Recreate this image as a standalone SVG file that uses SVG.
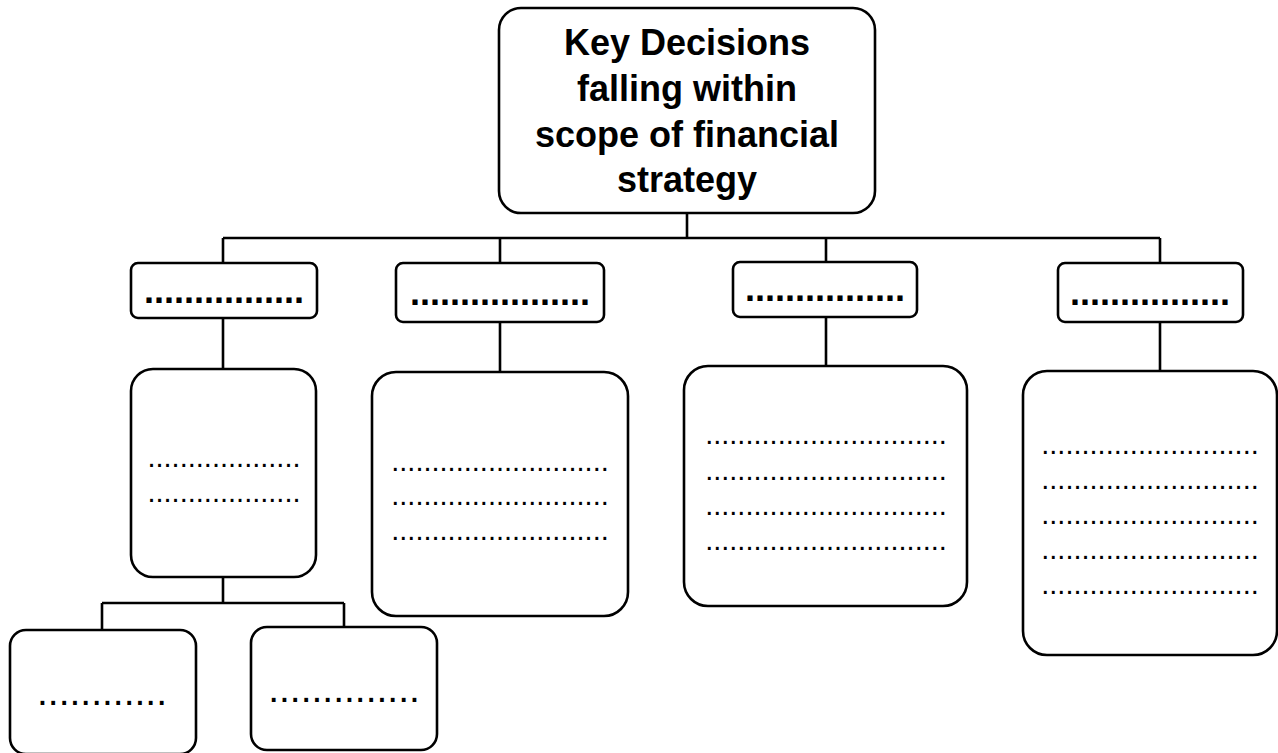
<svg xmlns="http://www.w3.org/2000/svg" width="1278" height="753" viewBox="0 0 1278 753">
<style>
.box{fill:#fff;stroke:#000;stroke-width:2.6}
.ln{fill:none;stroke:#000;stroke-width:2.6}
.t{font-family:"Liberation Sans",Arial,sans-serif;font-weight:bold;font-size:36px;text-anchor:middle;fill:#000}
.hd{font-family:"Liberation Sans",Arial,sans-serif;font-weight:bold;font-size:36px;text-anchor:middle;fill:#000}
.bd{font-family:"Liberation Sans",Arial,sans-serif;font-size:29px;text-anchor:middle;fill:#000}
.bt{font-family:"Liberation Sans",Arial,sans-serif;font-size:39px;text-anchor:middle;fill:#000}
</style>
<rect width="1278" height="753" fill="#fff"/>
<g id="connectors">
<path class="ln" d="M687 213V238M223 238H1160M223 238V263M500 238V263M826 238V262M1160 238V263"/>
<path class="ln" d="M223 318V369M500 322V372M826 317V366M1160 322V372"/>
<path class="ln" d="M223 577V603M102 603H344M102 603V630M344 603V627"/>
</g>
<g id="root">
<rect class="box" x="499" y="8" width="376" height="205" rx="22"/>
<text class="t" x="687" y="55">Key Decisions</text>
<text class="t" x="687" y="101">falling within</text>
<text class="t" x="687" y="147">scope of financial</text>
<text class="t" x="687" y="192">strategy</text>
</g>
<g id="h1"><rect class="box" x="131" y="263" width="186" height="55" rx="7"/><text class="hd" x="224" y="303">................</text></g>
<g id="h2"><rect class="box" x="396" y="263" width="208" height="59" rx="7"/><text class="hd" x="500" y="305">..................</text></g>
<g id="h3"><rect class="box" x="733" y="262" width="184" height="55" rx="7"/><text class="hd" x="825" y="301">................</text></g>
<g id="h4"><rect class="box" x="1058" y="263" width="185" height="59" rx="7"/><text class="hd" x="1150" y="305">................</text></g>
<g id="b1"><rect class="box" x="131" y="369" width="185" height="208" rx="22"/>
<text class="bd" x="224" y="466.5">...................</text>
<text class="bd" x="224" y="501.5">...................</text></g>
<g id="b2"><rect class="box" x="372" y="372" width="256" height="244" rx="24"/>
<text class="bd" x="500" y="470.5">...........................</text>
<text class="bd" x="500" y="504.5">...........................</text>
<text class="bd" x="500" y="539.5">...........................</text></g>
<g id="b3"><rect class="box" x="684" y="366" width="283" height="240" rx="24"/>
<text class="bd" x="826" y="443.5">..............................</text>
<text class="bd" x="826" y="479.5">..............................</text>
<text class="bd" x="826" y="514.5">..............................</text>
<text class="bd" x="826" y="549.5">..............................</text></g>
<g id="b4"><rect class="box" x="1023" y="371" width="254" height="284" rx="24"/>
<text class="bd" x="1150" y="453.5">...........................</text>
<text class="bd" x="1150" y="488.5">...........................</text>
<text class="bd" x="1150" y="523.5">...........................</text>
<text class="bd" x="1150" y="558.5">...........................</text>
<text class="bd" x="1150" y="593.5">...........................</text></g>
<g id="c1"><rect class="box" x="10" y="630" width="186" height="124" rx="16"/><text class="bt" x="102" y="705">............</text></g>
<g id="c2"><rect class="box" x="251" y="627" width="186" height="123" rx="16"/><text class="bt" x="344" y="702">..............</text></g>
</svg>
